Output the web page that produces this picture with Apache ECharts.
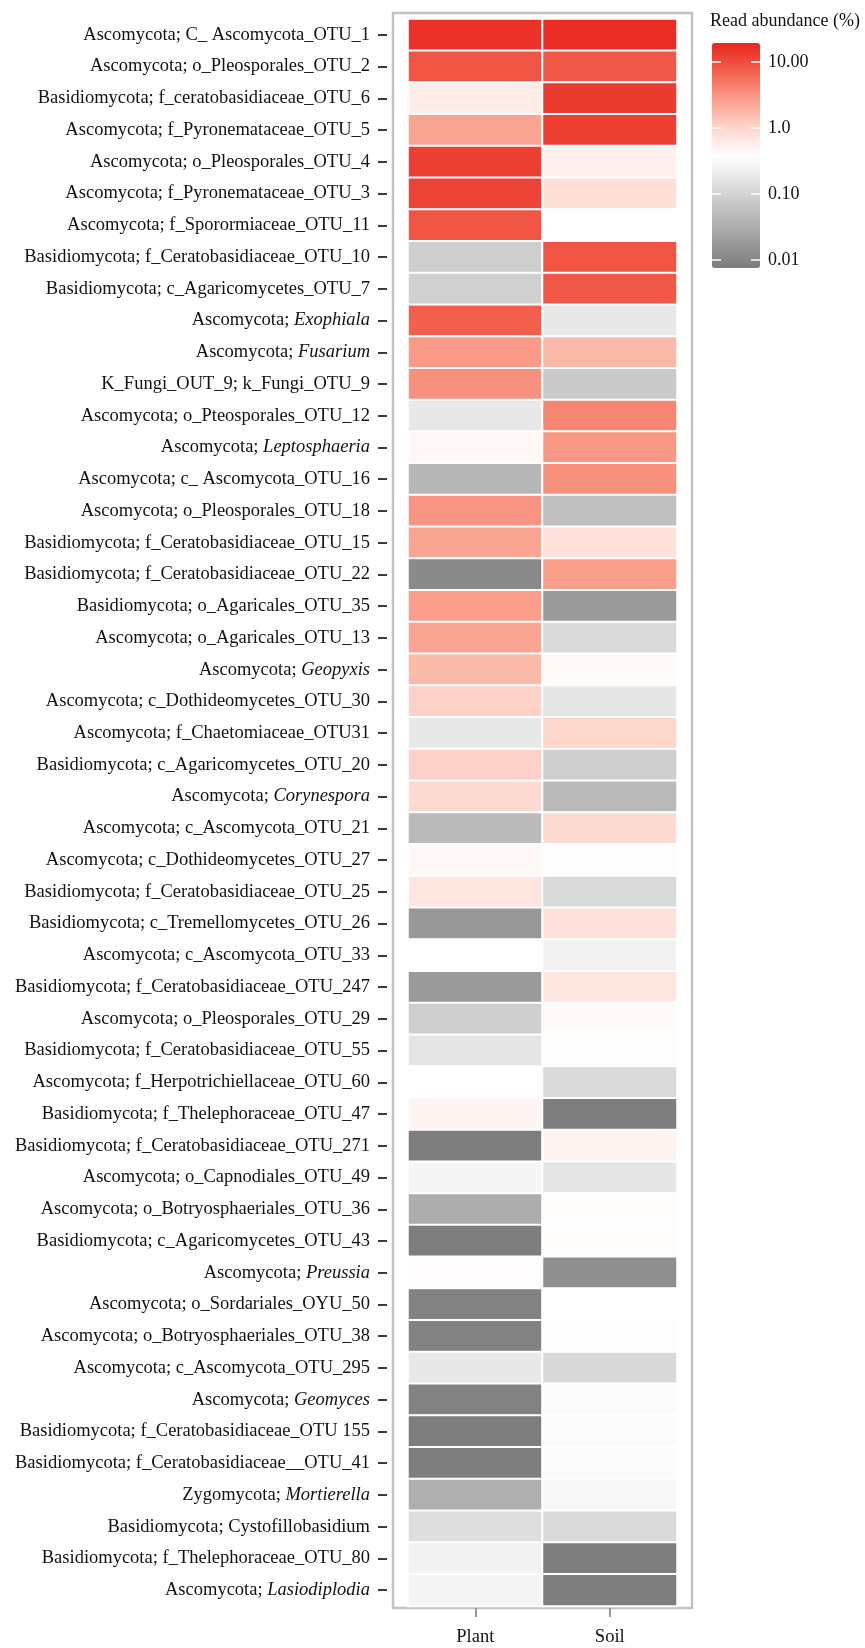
<!DOCTYPE html>
<html>
<head>
<meta charset="utf-8">
<script src="https://cdn.jsdelivr.net/npm/echarts@6/dist/echarts.min.js"></script>
<style>
  html, body { margin: 0; padding: 0; background: #ffffff; }
  #chart { width: 865px; height: 1648px; }
</style>
</head>
<body>
<div id="chart"></div>
<script>
// Fungal OTUs (rows, top to bottom) and their read abundance (%) in each sample type
const taxa = [
  'Ascomycota; C_ Ascomycota_OTU_1',
  'Ascomycota; o_Pleosporales_OTU_2',
  'Basidiomycota; f_ceratobasidiaceae_OTU_6',
  'Ascomycota; f_Pyronemataceae_OTU_5',
  'Ascomycota; o_Pleosporales_OTU_4',
  'Ascomycota; f_Pyronemataceae_OTU_3',
  'Ascomycota; f_Sporormiaceae_OTU_11',
  'Basidiomycota; f_Ceratobasidiaceae_OTU_10',
  'Basidiomycota; c_Agaricomycetes_OTU_7',
  'Ascomycota; Exophiala',
  'Ascomycota; Fusarium',
  'K_Fungi_OUT_9; k_Fungi_OTU_9',
  'Ascomycota; o_Pteosporales_OTU_12',
  'Ascomycota; Leptosphaeria',
  'Ascomycota; c_ Ascomycota_OTU_16',
  'Ascomycota; o_Pleosporales_OTU_18',
  'Basidiomycota; f_Ceratobasidiaceae_OTU_15',
  'Basidiomycota; f_Ceratobasidiaceae_OTU_22',
  'Basidiomycota; o_Agaricales_OTU_35',
  'Ascomycota; o_Agaricales_OTU_13',
  'Ascomycota; Geopyxis',
  'Ascomycota; c_Dothideomycetes_OTU_30',
  'Ascomycota; f_Chaetomiaceae_OTU31',
  'Basidiomycota; c_Agaricomycetes_OTU_20',
  'Ascomycota; Corynespora',
  'Ascomycota; c_Ascomycota_OTU_21',
  'Ascomycota; c_Dothideomycetes_OTU_27',
  'Basidiomycota; f_Ceratobasidiaceae_OTU_25',
  'Basidiomycota; c_Tremellomycetes_OTU_26',
  'Ascomycota; c_Ascomycota_OTU_33',
  'Basidiomycota; f_Ceratobasidiaceae_OTU_247',
  'Ascomycota; o_Pleosporales_OTU_29',
  'Basidiomycota; f_Ceratobasidiaceae_OTU_55',
  'Ascomycota; f_Herpotrichiellaceae_OTU_60',
  'Basidiomycota; f_Thelephoraceae_OTU_47',
  'Basidiomycota; f_Ceratobasidiaceae_OTU_271',
  'Ascomycota; o_Capnodiales_OTU_49',
  'Ascomycota; o_Botryosphaeriales_OTU_36',
  'Basidiomycota; c_Agaricomycetes_OTU_43',
  'Ascomycota; Preussia',
  'Ascomycota; o_Sordariales_OYU_50',
  'Ascomycota; o_Botryosphaeriales_OTU_38',
  'Ascomycota; c_Ascomycota_OTU_295',
  'Ascomycota; Geomyces',
  'Basidiomycota; f_Ceratobasidiaceae_OTU 155',
  'Basidiomycota; f_Ceratobasidiaceae__OTU_41',
  'Zygomycota; Mortierella',
  'Basidiomycota; Cystofillobasidium',
  'Basidiomycota; f_Thelephoraceae_OTU_80',
  'Ascomycota; Lasiodiplodia'
];

// Genus names set in italics
const italicNames = ['Exophiala', 'Fusarium', 'Leptosphaeria', 'Geopyxis', 'Corynespora',
  'Preussia', 'Geomyces', 'Mortierella', 'Lasiodiplodia'];

const samples = ['Plant', 'Soil'];

const plantAbundance = [
  16, 9, 0.6, 2.4, 13, 12, 9, 0.085, 0.09, 7.5,
  2.9, 3.4, 0.19, 0.45, 0.043, 3.2, 2.4, 0.011, 2.7, 2.4,
  1.7, 1.1, 0.19, 1.1, 0.9, 0.046, 0.45, 0.7, 0.017, 0.385,
  0.018, 0.085, 0.175, 0.385, 0.5, 0.008, 0.28, 0.032, 0.008, 0.4,
  0.009, 0.009, 0.19, 0.009, 0.008, 0.008, 0.034, 0.14, 0.26, 0.28
];

const soilAbundance = [
  18, 8.5, 14, 13, 0.55, 0.8, 0.385, 9, 8.5, 0.19,
  1.7, 0.075, 4, 3, 3.4, 0.054, 0.78, 2.7, 0.018, 0.125,
  0.44, 0.175, 1.0, 0.085, 0.046, 0.9, 0.36, 0.125, 0.78, 0.26,
  0.7, 0.44, 0.36, 0.125, 0.008, 0.5, 0.175, 0.41, 0.41, 0.013,
  0.38, 0.36, 0.12, 0.34, 0.34, 0.34, 0.31, 0.125, 0.008, 0.008
];

// Colour scale limits (%), log10-spaced, and its labelled breaks
const scaleMin = 0.0076;
const scaleMax = 19.5;
const legendTicks = [0.01, 0.1, 1, 10];
const legendTickLabels = ['0.01', '0.10', '1.0', '10.00'];

const serif = "'Liberation Serif', 'Times New Roman', serif";
const labelSize = 18.5;
const log10 = v => Math.log10(v);

const abundanceBySample = [plantAbundance, soilAbundance];
const cells = [];
abundanceBySample.forEach((values, col) => {
  values.forEach((v, row) => cells.push([col, row, log10(v)]));
});

function taxonLabel(name) {
  const parts = name.split('; ');
  if (parts.length === 2 && italicNames.indexOf(parts[1]) >= 0) {
    return '{n|' + parts[0] + '; }{i|' + parts[1] + '}';
  }
  return '{n|' + name + '}';
}

const legendAxisBase = {
  type: 'value',
  gridIndex: 2,
  min: log10(scaleMin),
  max: log10(scaleMax),
  z: 10,
  axisLine: { show: false },
  splitLine: { show: false },
  axisTick: {
    show: true, inside: true, length: 9,
    lineStyle: { color: '#ffffff', width: 1.5 },
    customValues: legendTicks.map(log10)
  }
};

const chart = echarts.init(document.getElementById('chart'), null, { renderer: 'canvas' });
chart.setOption({
  animation: false,
  backgroundColor: '#ffffff',
  title: {
    text: 'Read abundance (%)',
    left: 710, top: 12, padding: 0,
    textStyle: { fontFamily: serif, fontSize: 18, fontWeight: 'normal', color: '#111' }
  },
  grid: [
    // heatmap cells
    { left: 408, right: 188, top: 19, bottom: 42, containLabel: false },
    // panel frame
    { left: 393, right: 173, top: 13, bottom: 40, show: true,
      borderColor: '#c2c2c2', borderWidth: 2.5, backgroundColor: 'transparent' },
    // colour bar axes
    { left: 712, top: 43, width: 48, height: 225 }
  ],
  xAxis: [
    {
      type: 'category', gridIndex: 0, data: samples, position: 'bottom', offset: 2,
      axisLine: { show: false },
      axisTick: { show: true, alignWithLabel: true, length: 9,
        lineStyle: { color: '#9a9a9a', width: 2 } },
      axisLabel: { margin: 20, fontFamily: serif, fontSize: labelSize, color: '#111' },
      splitLine: { show: false }
    },
    { type: 'value', gridIndex: 1, show: false },
    { type: 'category', gridIndex: 2, data: [''], show: false }
  ],
  yAxis: [
    {
      type: 'category', gridIndex: 0, data: taxa, inverse: true, offset: 21,
      axisLine: { show: false },
      axisTick: { show: true, alignWithLabel: true, length: 9,
        lineStyle: { color: '#3a3a3a', width: 2 } },
      axisLabel: {
        margin: 17, interval: 0, formatter: taxonLabel,
        rich: {
          n: { fontFamily: serif, fontSize: labelSize, color: '#111' },
          i: { fontFamily: serif, fontSize: labelSize, fontStyle: 'italic', color: '#111' }
        }
      },
      splitLine: { show: false }
    },
    { type: 'value', gridIndex: 1, show: false },
    Object.assign({}, legendAxisBase, {
      position: 'right',
      axisLabel: {
        show: true, margin: 8, fontFamily: serif, fontSize: 18, color: '#111',
        customValues: legendTicks.map(log10),
        formatter: v => {
          const k = legendTicks.findIndex(t => Math.abs(log10(t) - v) < 1e-6);
          return k >= 0 ? legendTickLabels[k] : '';
        }
      }
    }),
    Object.assign({}, legendAxisBase, {
      position: 'left',
      axisLabel: { show: false }
    })
  ],
  visualMap: {
    type: 'continuous',
    seriesIndex: 0,
    min: log10(scaleMin),
    max: log10(scaleMax),
    orient: 'vertical',
    left: 712, top: 43,
    itemWidth: 48, itemHeight: 225,
    padding: 0,
    calculable: false,
    showLabel: false,
    text: null,
    hoverLink: false,
    inRange: {
      color: ['#7c7c7c', '#9e9e9e', '#bfbfbf', '#dfdfdf', '#ffffff',
              '#fdd5cb', '#f99e8b', '#f2604d', '#e8271f']
    }
  },
  series: [{
    type: 'heatmap',
    xAxisIndex: 0, yAxisIndex: 0,
    data: cells,
    itemStyle: { borderColor: '#ffffff', borderWidth: 2 },
    emphasis: { disabled: true }
  }]
});
</script>
</body>
</html>
